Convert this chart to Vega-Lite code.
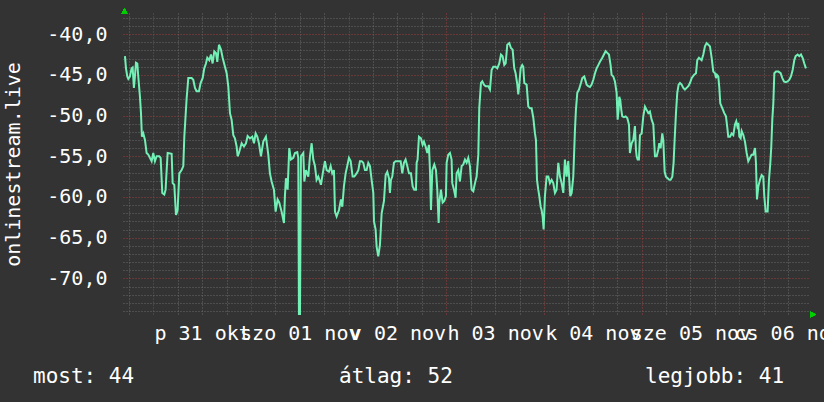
{
  "$schema": "https://vega.github.io/schema/vega-lite/v6.json",
  "width": 686,
  "height": 302,
  "autosize": {"type": "none"},
  "padding": {"left": 123, "top": 13, "right": 15, "bottom": 87},
  "background": "#333333",
  "config": {
    "view": {"fill": "#222222", "stroke": null},
    "font": "DejaVu Sans Mono",
    "locale": {
      "number": {"decimal": ",", "thousands": " ", "grouping": [3], "currency": ["", " Ft"], "minus": "-"},
      "time": {
        "dateTime": "%Y. %B %-e., %A %X",
        "date": "%Y. %m. %d.",
        "time": "%H:%M:%S",
        "periods": ["de.", "du."],
        "days": ["vasárnap", "hétfő", "kedd", "szerda", "csütörtök", "péntek", "szombat"],
        "shortDays": ["v", "h", "k", "sze", "cs", "p", "szo"],
        "months": ["január", "február", "március", "április", "május", "június", "július", "augusztus", "szeptember", "október", "november", "december"],
        "shortMonths": ["jan", "febr", "márc", "ápr", "máj", "jún", "júl", "aug", "szept", "okt", "nov", "dec"]
      }
    },
    "axis": {"domain": false, "ticks": false, "tickSize": 0, "labelFont": "DejaVu Sans Mono", "titleFont": "DejaVu Sans Mono"}
  },
  "data": {
    "format": {"parse": {"t": "utc:'%Y-%m-%d %H:%M'"}},
    "values": [
      {"t": "2014-10-30 17:03", "v": -42.7}, {"t": "2014-10-30 17:18", "v": -44.2}, {"t": "2014-10-30 17:37", "v": -45.2}, {"t": "2014-10-30 17:52", "v": -45.5},
      {"t": "2014-10-30 18:16", "v": -45.2}, {"t": "2014-10-30 18:41", "v": -44.2}, {"t": "2014-10-30 18:56", "v": -44.1}, {"t": "2014-10-30 19:15", "v": -46.6},
      {"t": "2014-10-30 19:30", "v": -45.2}, {"t": "2014-10-30 19:45", "v": -43.5}, {"t": "2014-10-30 20:05", "v": -43.6}, {"t": "2014-10-30 20:19", "v": -45.2},
      {"t": "2014-10-30 20:44", "v": -47.7}, {"t": "2014-10-30 20:59", "v": -49.7}, {"t": "2014-10-30 21:13", "v": -52.6}, {"t": "2014-10-30 21:33", "v": -52.2},
      {"t": "2014-10-30 21:58", "v": -53.0}, {"t": "2014-10-30 22:22", "v": -54.6}, {"t": "2014-10-30 22:47", "v": -54.8}, {"t": "2014-10-30 23:11", "v": -55.2},
      {"t": "2014-10-30 23:36", "v": -55.6},
      {"t": "2014-10-31 00:00", "v": -54.6}, {"t": "2014-10-31 00:25", "v": -55.6}, {"t": "2014-10-31 00:50", "v": -55.0}, {"t": "2014-10-31 01:29", "v": -55.0},
      {"t": "2014-10-31 01:49", "v": -55.2}, {"t": "2014-10-31 02:13", "v": -59.5}, {"t": "2014-10-31 02:43", "v": -59.7}, {"t": "2014-10-31 03:02", "v": -59.1},
      {"t": "2014-10-31 03:32", "v": -54.6}, {"t": "2014-10-31 04:31", "v": -54.7}, {"t": "2014-10-31 04:46", "v": -58.3}, {"t": "2014-10-31 05:10", "v": -58.5},
      {"t": "2014-10-31 05:35", "v": -62.2}, {"t": "2014-10-31 05:59", "v": -61.6}, {"t": "2014-10-31 06:24", "v": -57.1}, {"t": "2014-10-31 06:58", "v": -56.7},
      {"t": "2014-10-31 07:23", "v": -56.2}, {"t": "2014-10-31 07:38", "v": -52.6}, {"t": "2014-10-31 08:12", "v": -47.9}, {"t": "2014-10-31 08:37", "v": -45.4},
      {"t": "2014-10-31 09:26", "v": -45.4}, {"t": "2014-10-31 09:50", "v": -45.6}, {"t": "2014-10-31 10:15", "v": -46.6}, {"t": "2014-10-31 10:39", "v": -47.0},
      {"t": "2014-10-31 11:14", "v": -47.0}, {"t": "2014-10-31 11:38", "v": -46.0}, {"t": "2014-10-31 12:08", "v": -45.4}, {"t": "2014-10-31 12:32", "v": -44.2},
      {"t": "2014-10-31 12:57", "v": -43.6}, {"t": "2014-10-31 13:17", "v": -42.9}, {"t": "2014-10-31 13:46", "v": -43.2}, {"t": "2014-10-31 14:11", "v": -42.5},
      {"t": "2014-10-31 14:35", "v": -43.6}, {"t": "2014-10-31 15:00", "v": -42.1}, {"t": "2014-10-31 15:24", "v": -42.3}, {"t": "2014-10-31 15:44", "v": -43.4},
      {"t": "2014-10-31 16:09", "v": -41.3}, {"t": "2014-10-31 16:38", "v": -41.9}, {"t": "2014-10-31 17:03", "v": -42.9}, {"t": "2014-10-31 17:37", "v": -44.0},
      {"t": "2014-10-31 18:02", "v": -44.8}, {"t": "2014-10-31 18:26", "v": -46.4}, {"t": "2014-10-31 18:51", "v": -49.7}, {"t": "2014-10-31 19:15", "v": -50.5},
      {"t": "2014-10-31 19:40", "v": -52.4}, {"t": "2014-10-31 20:04", "v": -52.8}, {"t": "2014-10-31 20:29", "v": -53.8}, {"t": "2014-10-31 20:44", "v": -55.0},
      {"t": "2014-10-31 21:03", "v": -54.6}, {"t": "2014-10-31 21:43", "v": -53.4}, {"t": "2014-10-31 22:17", "v": -53.8}, {"t": "2014-10-31 22:47", "v": -53.4},
      {"t": "2014-10-31 23:11", "v": -52.5}, {"t": "2014-10-31 23:46", "v": -52.8},
      {"t": "2014-11-01 00:20", "v": -52.6}, {"t": "2014-11-01 00:45", "v": -53.4}, {"t": "2014-11-01 01:09", "v": -52.2}, {"t": "2014-11-01 01:34", "v": -52.6},
      {"t": "2014-11-01 01:58", "v": -53.4}, {"t": "2014-11-01 02:28", "v": -55.0}, {"t": "2014-11-01 03:02", "v": -53.2}, {"t": "2014-11-01 03:41", "v": -52.6},
      {"t": "2014-11-01 04:16", "v": -54.8}, {"t": "2014-11-01 04:40", "v": -57.1}, {"t": "2014-11-01 05:05", "v": -58.1}, {"t": "2014-11-01 05:39", "v": -59.1},
      {"t": "2014-11-01 06:04", "v": -61.8}, {"t": "2014-11-01 06:33", "v": -60.3}, {"t": "2014-11-01 06:58", "v": -60.7}, {"t": "2014-11-01 07:32", "v": -61.8},
      {"t": "2014-11-01 08:07", "v": -63.2}, {"t": "2014-11-01 08:21", "v": -59.9}, {"t": "2014-11-01 08:36", "v": -57.7}, {"t": "2014-11-01 09:01", "v": -59.1},
      {"t": "2014-11-01 09:25", "v": -54.0}, {"t": "2014-11-01 09:50", "v": -55.4}, {"t": "2014-11-01 10:24", "v": -55.2}, {"t": "2014-11-01 10:49", "v": -54.6},
      {"t": "2014-11-01 11:23", "v": -54.5}, {"t": "2014-11-01 11:38", "v": -55.2}, {"t": "2014-11-01 11:48", "v": -74.5}, {"t": "2014-11-01 12:03", "v": -74.5},
      {"t": "2014-11-01 12:17", "v": -55.0}, {"t": "2014-11-01 12:52", "v": -54.6}, {"t": "2014-11-01 13:07", "v": -58.1}, {"t": "2014-11-01 13:31", "v": -56.7},
      {"t": "2014-11-01 14:06", "v": -57.5}, {"t": "2014-11-01 14:30", "v": -55.0}, {"t": "2014-11-01 14:55", "v": -53.4}, {"t": "2014-11-01 15:19", "v": -55.4},
      {"t": "2014-11-01 15:44", "v": -56.2}, {"t": "2014-11-01 16:08", "v": -57.9}, {"t": "2014-11-01 16:33", "v": -57.5}, {"t": "2014-11-01 16:58", "v": -58.1},
      {"t": "2014-11-01 17:12", "v": -58.5}, {"t": "2014-11-01 17:47", "v": -56.7}, {"t": "2014-11-01 18:11", "v": -55.6}, {"t": "2014-11-01 18:36", "v": -56.7},
      {"t": "2014-11-01 19:10", "v": -56.9}, {"t": "2014-11-01 19:35", "v": -56.2}, {"t": "2014-11-01 19:59", "v": -57.1}, {"t": "2014-11-01 20:24", "v": -56.7},
      {"t": "2014-11-01 20:39", "v": -61.8}, {"t": "2014-11-01 21:03", "v": -62.4}, {"t": "2014-11-01 21:38", "v": -61.6}, {"t": "2014-11-01 22:07", "v": -60.3},
      {"t": "2014-11-01 22:27", "v": -61.2}, {"t": "2014-11-01 22:51", "v": -58.7}, {"t": "2014-11-01 23:16", "v": -57.1}, {"t": "2014-11-01 23:40", "v": -56.2},
      {"t": "2014-11-02 00:05", "v": -55.2}, {"t": "2014-11-02 00:30", "v": -55.6}, {"t": "2014-11-02 00:59", "v": -57.5}, {"t": "2014-11-02 01:24", "v": -57.5},
      {"t": "2014-11-02 01:58", "v": -57.1}, {"t": "2014-11-02 02:23", "v": -56.7}, {"t": "2014-11-02 02:47", "v": -55.6}, {"t": "2014-11-02 03:12", "v": -55.6},
      {"t": "2014-11-02 03:36", "v": -55.8}, {"t": "2014-11-02 04:01", "v": -56.7}, {"t": "2014-11-02 04:25", "v": -56.7}, {"t": "2014-11-02 04:50", "v": -55.8},
      {"t": "2014-11-02 05:15", "v": -56.2}, {"t": "2014-11-02 05:39", "v": -57.9}, {"t": "2014-11-02 06:04", "v": -59.5}, {"t": "2014-11-02 06:14", "v": -63.0},
      {"t": "2014-11-02 06:38", "v": -64.0}, {"t": "2014-11-02 06:53", "v": -66.1}, {"t": "2014-11-02 07:17", "v": -67.3}, {"t": "2014-11-02 07:42", "v": -65.9},
      {"t": "2014-11-02 08:07", "v": -62.0}, {"t": "2014-11-02 08:41", "v": -60.5}, {"t": "2014-11-02 09:06", "v": -57.3}, {"t": "2014-11-02 09:30", "v": -56.9},
      {"t": "2014-11-02 09:55", "v": -57.7}, {"t": "2014-11-02 10:09", "v": -59.5}, {"t": "2014-11-02 10:24", "v": -57.9}, {"t": "2014-11-02 10:44", "v": -57.5},
      {"t": "2014-11-02 11:08", "v": -55.8}, {"t": "2014-11-02 11:33", "v": -55.6}, {"t": "2014-11-02 12:12", "v": -55.6}, {"t": "2014-11-02 12:47", "v": -55.6},
      {"t": "2014-11-02 13:11", "v": -57.1}, {"t": "2014-11-02 13:36", "v": -55.8}, {"t": "2014-11-02 14:00", "v": -55.4}, {"t": "2014-11-02 14:25", "v": -56.2},
      {"t": "2014-11-02 14:50", "v": -57.1}, {"t": "2014-11-02 15:19", "v": -57.1}, {"t": "2014-11-02 15:44", "v": -58.7}, {"t": "2014-11-02 16:08", "v": -59.1},
      {"t": "2014-11-02 16:33", "v": -59.1}, {"t": "2014-11-02 16:43", "v": -55.8}, {"t": "2014-11-02 16:57", "v": -55.4}, {"t": "2014-11-02 17:17", "v": -52.6},
      {"t": "2014-11-02 17:46", "v": -52.8}, {"t": "2014-11-02 18:11", "v": -53.6}, {"t": "2014-11-02 18:31", "v": -53.2}, {"t": "2014-11-02 18:55", "v": -53.8},
      {"t": "2014-11-02 19:20", "v": -54.6}, {"t": "2014-11-02 19:44", "v": -53.6}, {"t": "2014-11-02 19:59", "v": -56.7}, {"t": "2014-11-02 20:14", "v": -61.6},
      {"t": "2014-11-02 20:34", "v": -56.7}, {"t": "2014-11-02 21:03", "v": -56.0}, {"t": "2014-11-02 21:28", "v": -56.7}, {"t": "2014-11-02 21:47", "v": -59.1},
      {"t": "2014-11-02 22:07", "v": -63.2}, {"t": "2014-11-02 22:17", "v": -60.7}, {"t": "2014-11-02 22:41", "v": -59.1}, {"t": "2014-11-02 23:06", "v": -60.7},
      {"t": "2014-11-02 23:30", "v": -60.5}, {"t": "2014-11-02 23:55", "v": -59.9},
      {"t": "2014-11-03 00:05", "v": -55.8}, {"t": "2014-11-03 00:29", "v": -54.8}, {"t": "2014-11-03 00:54", "v": -54.6}, {"t": "2014-11-03 01:18", "v": -55.4},
      {"t": "2014-11-03 01:28", "v": -58.3}, {"t": "2014-11-03 01:53", "v": -59.1}, {"t": "2014-11-03 02:17", "v": -60.1}, {"t": "2014-11-03 02:32", "v": -57.1},
      {"t": "2014-11-03 02:57", "v": -56.7}, {"t": "2014-11-03 03:21", "v": -58.1}, {"t": "2014-11-03 03:46", "v": -56.2}, {"t": "2014-11-03 04:11", "v": -56.0},
      {"t": "2014-11-03 04:35", "v": -55.4}, {"t": "2014-11-03 05:00", "v": -55.8}, {"t": "2014-11-03 05:24", "v": -55.2}, {"t": "2014-11-03 05:49", "v": -56.2},
      {"t": "2014-11-03 06:13", "v": -59.1}, {"t": "2014-11-03 06:38", "v": -59.3}, {"t": "2014-11-03 07:03", "v": -58.3}, {"t": "2014-11-03 07:27", "v": -57.5},
      {"t": "2014-11-03 07:52", "v": -54.8}, {"t": "2014-11-03 08:06", "v": -49.1}, {"t": "2014-11-03 08:31", "v": -46.0}, {"t": "2014-11-03 08:51", "v": -45.8},
      {"t": "2014-11-03 09:15", "v": -46.2}, {"t": "2014-11-03 09:40", "v": -46.4}, {"t": "2014-11-03 10:19", "v": -46.4}, {"t": "2014-11-03 10:44", "v": -46.8},
      {"t": "2014-11-03 11:08", "v": -44.4}, {"t": "2014-11-03 11:33", "v": -44.0}, {"t": "2014-11-03 12:07", "v": -44.0}, {"t": "2014-11-03 12:32", "v": -44.2},
      {"t": "2014-11-03 13:01", "v": -43.6}, {"t": "2014-11-03 13:26", "v": -42.5}, {"t": "2014-11-03 13:50", "v": -42.7}, {"t": "2014-11-03 14:15", "v": -43.8},
      {"t": "2014-11-03 14:35", "v": -43.6}, {"t": "2014-11-03 14:59", "v": -41.3}, {"t": "2014-11-03 15:29", "v": -41.1}, {"t": "2014-11-03 15:53", "v": -41.7},
      {"t": "2014-11-03 16:18", "v": -41.9}, {"t": "2014-11-03 16:42", "v": -44.2}, {"t": "2014-11-03 17:02", "v": -44.8}, {"t": "2014-11-03 17:27", "v": -46.2},
      {"t": "2014-11-03 17:41", "v": -47.4}, {"t": "2014-11-03 17:56", "v": -46.2}, {"t": "2014-11-03 18:16", "v": -44.2}, {"t": "2014-11-03 18:40", "v": -43.8},
      {"t": "2014-11-03 18:55", "v": -44.0}, {"t": "2014-11-03 19:10", "v": -46.0}, {"t": "2014-11-03 19:44", "v": -46.2}, {"t": "2014-11-03 20:09", "v": -48.9},
      {"t": "2014-11-03 20:33", "v": -49.1}, {"t": "2014-11-03 20:58", "v": -49.1}, {"t": "2014-11-03 21:23", "v": -50.3}, {"t": "2014-11-03 21:47", "v": -52.2},
      {"t": "2014-11-03 22:02", "v": -53.0}, {"t": "2014-11-03 22:17", "v": -57.9}, {"t": "2014-11-03 22:36", "v": -59.1}, {"t": "2014-11-03 22:51", "v": -59.9},
      {"t": "2014-11-03 23:11", "v": -61.2}, {"t": "2014-11-03 23:25", "v": -61.6}, {"t": "2014-11-03 23:40", "v": -62.4}, {"t": "2014-11-03 23:55", "v": -64.0},
      {"t": "2014-11-04 00:14", "v": -59.9}, {"t": "2014-11-04 00:39", "v": -57.5}, {"t": "2014-11-04 01:04", "v": -57.5}, {"t": "2014-11-04 01:28", "v": -58.3},
      {"t": "2014-11-04 01:53", "v": -57.9}, {"t": "2014-11-04 02:17", "v": -58.3}, {"t": "2014-11-04 02:42", "v": -59.5}, {"t": "2014-11-04 03:06", "v": -59.1},
      {"t": "2014-11-04 03:31", "v": -55.8}, {"t": "2014-11-04 03:56", "v": -57.5}, {"t": "2014-11-04 04:20", "v": -58.3}, {"t": "2014-11-04 04:45", "v": -59.5},
      {"t": "2014-11-04 05:09", "v": -55.4}, {"t": "2014-11-04 05:34", "v": -57.5}, {"t": "2014-11-04 05:58", "v": -55.6}, {"t": "2014-11-04 06:13", "v": -57.9},
      {"t": "2014-11-04 06:28", "v": -59.9}, {"t": "2014-11-04 06:48", "v": -59.5}, {"t": "2014-11-04 07:12", "v": -57.5}, {"t": "2014-11-04 07:37", "v": -51.7},
      {"t": "2014-11-04 07:51", "v": -49.3}, {"t": "2014-11-04 08:11", "v": -47.2}, {"t": "2014-11-04 08:36", "v": -46.8}, {"t": "2014-11-04 09:05", "v": -46.0},
      {"t": "2014-11-04 09:25", "v": -45.4}, {"t": "2014-11-04 09:54", "v": -45.2}, {"t": "2014-11-04 10:29", "v": -46.2}, {"t": "2014-11-04 10:53", "v": -46.4},
      {"t": "2014-11-04 11:18", "v": -46.5}, {"t": "2014-11-04 11:42", "v": -46.2}, {"t": "2014-11-04 12:07", "v": -45.6}, {"t": "2014-11-04 12:32", "v": -44.8},
      {"t": "2014-11-04 12:56", "v": -44.2}, {"t": "2014-11-04 13:21", "v": -43.8}, {"t": "2014-11-04 13:45", "v": -43.4}, {"t": "2014-11-04 14:20", "v": -42.9},
      {"t": "2014-11-04 14:44", "v": -42.5}, {"t": "2014-11-04 15:09", "v": -42.1}, {"t": "2014-11-04 15:33", "v": -42.3}, {"t": "2014-11-04 15:58", "v": -42.5},
      {"t": "2014-11-04 16:22", "v": -43.8}, {"t": "2014-11-04 16:37", "v": -45.0}, {"t": "2014-11-04 17:02", "v": -45.2}, {"t": "2014-11-04 17:26", "v": -45.8},
      {"t": "2014-11-04 17:51", "v": -47.2}, {"t": "2014-11-04 18:06", "v": -50.5}, {"t": "2014-11-04 18:20", "v": -49.3}, {"t": "2014-11-04 18:30", "v": -47.7},
      {"t": "2014-11-04 18:45", "v": -48.1}, {"t": "2014-11-04 19:00", "v": -49.3}, {"t": "2014-11-04 19:14", "v": -50.1}, {"t": "2014-11-04 19:39", "v": -50.2},
      {"t": "2014-11-04 20:04", "v": -50.1}, {"t": "2014-11-04 20:28", "v": -50.3}, {"t": "2014-11-04 20:53", "v": -51.1}, {"t": "2014-11-04 21:07", "v": -54.6},
      {"t": "2014-11-04 21:32", "v": -53.4}, {"t": "2014-11-04 21:57", "v": -53.0}, {"t": "2014-11-04 22:21", "v": -51.3}, {"t": "2014-11-04 22:36", "v": -54.2},
      {"t": "2014-11-04 22:46", "v": -55.0}, {"t": "2014-11-04 23:01", "v": -55.4}, {"t": "2014-11-04 23:20", "v": -55.4}, {"t": "2014-11-04 23:35", "v": -52.4},
      {"t": "2014-11-05 00:00", "v": -52.2}, {"t": "2014-11-05 00:24", "v": -50.1}, {"t": "2014-11-05 00:49", "v": -48.9}, {"t": "2014-11-05 01:13", "v": -49.3},
      {"t": "2014-11-05 01:38", "v": -49.7}, {"t": "2014-11-05 02:02", "v": -49.5}, {"t": "2014-11-05 02:27", "v": -50.5}, {"t": "2014-11-05 02:52", "v": -51.1},
      {"t": "2014-11-05 03:16", "v": -55.0}, {"t": "2014-11-05 03:41", "v": -55.0}, {"t": "2014-11-05 04:05", "v": -54.2}, {"t": "2014-11-05 04:20", "v": -53.4},
      {"t": "2014-11-05 04:40", "v": -54.0}, {"t": "2014-11-05 05:04", "v": -52.2}, {"t": "2014-11-05 05:19", "v": -53.0}, {"t": "2014-11-05 05:39", "v": -56.9},
      {"t": "2014-11-05 05:58", "v": -57.5}, {"t": "2014-11-05 06:23", "v": -57.7}, {"t": "2014-11-05 06:47", "v": -57.9}, {"t": "2014-11-05 07:07", "v": -57.9},
      {"t": "2014-11-05 07:32", "v": -57.5}, {"t": "2014-11-05 07:51", "v": -55.8}, {"t": "2014-11-05 08:06", "v": -53.0}, {"t": "2014-11-05 08:26", "v": -49.7},
      {"t": "2014-11-05 08:45", "v": -47.2}, {"t": "2014-11-05 09:05", "v": -46.2}, {"t": "2014-11-05 09:25", "v": -46.0}, {"t": "2014-11-05 09:49", "v": -46.2},
      {"t": "2014-11-05 10:14", "v": -46.6}, {"t": "2014-11-05 10:38", "v": -46.8}, {"t": "2014-11-05 11:03", "v": -46.6}, {"t": "2014-11-05 11:28", "v": -46.4},
      {"t": "2014-11-05 11:52", "v": -46.0}, {"t": "2014-11-05 12:17", "v": -45.4}, {"t": "2014-11-05 12:51", "v": -45.0}, {"t": "2014-11-05 13:21", "v": -44.8},
      {"t": "2014-11-05 13:40", "v": -43.2}, {"t": "2014-11-05 14:05", "v": -42.9}, {"t": "2014-11-05 14:44", "v": -43.2}, {"t": "2014-11-05 15:09", "v": -42.5},
      {"t": "2014-11-05 15:33", "v": -41.5}, {"t": "2014-11-05 15:58", "v": -41.1}, {"t": "2014-11-05 16:23", "v": -41.3}, {"t": "2014-11-05 16:47", "v": -41.5},
      {"t": "2014-11-05 17:12", "v": -42.9}, {"t": "2014-11-05 17:36", "v": -44.6}, {"t": "2014-11-05 18:01", "v": -44.8}, {"t": "2014-11-05 18:16", "v": -45.4},
      {"t": "2014-11-05 18:30", "v": -45.0}, {"t": "2014-11-05 18:50", "v": -45.2}, {"t": "2014-11-05 19:05", "v": -46.6}, {"t": "2014-11-05 19:19", "v": -48.5},
      {"t": "2014-11-05 19:39", "v": -48.9}, {"t": "2014-11-05 19:59", "v": -49.3}, {"t": "2014-11-05 20:18", "v": -49.7}, {"t": "2014-11-05 20:43", "v": -50.1},
      {"t": "2014-11-05 21:03", "v": -51.5}, {"t": "2014-11-05 21:17", "v": -52.6}, {"t": "2014-11-05 21:42", "v": -52.6}, {"t": "2014-11-05 22:07", "v": -52.2},
      {"t": "2014-11-05 22:31", "v": -52.4}, {"t": "2014-11-05 22:56", "v": -51.1}, {"t": "2014-11-05 23:15", "v": -50.7}, {"t": "2014-11-05 23:30", "v": -51.3},
      {"t": "2014-11-05 23:45", "v": -50.9},
      {"t": "2014-11-06 00:00", "v": -52.6}, {"t": "2014-11-06 00:19", "v": -52.8}, {"t": "2014-11-06 00:34", "v": -51.9}, {"t": "2014-11-06 00:59", "v": -52.4},
      {"t": "2014-11-06 01:23", "v": -53.2}, {"t": "2014-11-06 01:48", "v": -54.6}, {"t": "2014-11-06 02:12", "v": -55.6}, {"t": "2014-11-06 02:37", "v": -55.2},
      {"t": "2014-11-06 03:01", "v": -54.8}, {"t": "2014-11-06 03:26", "v": -54.8}, {"t": "2014-11-06 03:51", "v": -54.0}, {"t": "2014-11-06 04:05", "v": -55.8},
      {"t": "2014-11-06 04:20", "v": -60.3}, {"t": "2014-11-06 04:40", "v": -58.7}, {"t": "2014-11-06 05:04", "v": -57.9}, {"t": "2014-11-06 05:29", "v": -57.3},
      {"t": "2014-11-06 05:53", "v": -57.5}, {"t": "2014-11-06 06:08", "v": -59.9}, {"t": "2014-11-06 06:28", "v": -61.8}, {"t": "2014-11-06 06:57", "v": -61.8},
      {"t": "2014-11-06 07:17", "v": -57.9}, {"t": "2014-11-06 07:37", "v": -55.8}, {"t": "2014-11-06 07:51", "v": -53.8}, {"t": "2014-11-06 08:06", "v": -50.5},
      {"t": "2014-11-06 08:21", "v": -48.5}, {"t": "2014-11-06 08:36", "v": -44.8}, {"t": "2014-11-06 09:00", "v": -44.6}, {"t": "2014-11-06 09:35", "v": -44.6},
      {"t": "2014-11-06 10:09", "v": -44.8}, {"t": "2014-11-06 10:34", "v": -45.4}, {"t": "2014-11-06 10:58", "v": -45.8}, {"t": "2014-11-06 11:23", "v": -45.9},
      {"t": "2014-11-06 11:52", "v": -45.8}, {"t": "2014-11-06 12:17", "v": -45.6}, {"t": "2014-11-06 12:41", "v": -45.2}, {"t": "2014-11-06 13:06", "v": -44.4},
      {"t": "2014-11-06 13:30", "v": -43.2}, {"t": "2014-11-06 13:50", "v": -42.7}, {"t": "2014-11-06 14:20", "v": -42.5}, {"t": "2014-11-06 14:44", "v": -42.7},
      {"t": "2014-11-06 15:09", "v": -42.5}, {"t": "2014-11-06 15:33", "v": -42.9}, {"t": "2014-11-06 15:58", "v": -43.6}, {"t": "2014-11-06 16:22", "v": -44.2}
    ]
  },
  "layer": [
    {
      "mark": {"type": "line", "opacity": 0},
      "encoding": {
        "x": {"field": "t", "type": "temporal",
          "scale": {"type": "utc", "domain": [1414686840000, 1415293620000], "nice": false},
          "axis": {"orient": "bottom", "title": null, "labels": false, "domain": false, "ticks": false, "grid": true, "gridColor": "#6a6a6a", "gridDash": [1, 2], "gridWidth": 1,
            "values": [1414692000000, 1414735200000, 1414756800000, 1414778400000, 1414821600000, 1414843200000, 1414864800000, 1414908000000, 1414929600000, 1414951200000, 1414994400000, 1415016000000, 1415037600000, 1415080800000, 1415102400000, 1415124000000, 1415167200000, 1415188800000, 1415210400000, 1415253600000, 1415275200000]}},
        "y": {"field": "v", "type": "quantitative",
          "scale": {"domain": [-74.5, -37.4], "nice": false, "zero": false},
          "axis": {"orient": "left", "title": null, "labels": false, "domain": false, "ticks": false, "grid": true, "gridColor": "#6a6a6a", "gridDash": [1, 2], "gridWidth": 1,
            "values": [-74, -73, -72, -71, -69, -68, -67, -66, -64, -63, -62, -61, -59, -58, -57, -56, -54, -53, -52, -51, -49, -48, -47, -46, -44, -43, -42, -41, -39, -38]}}
      }
    },
    {
      "mark": {"type": "line", "opacity": 0},
      "encoding": {
        "x": {"field": "t", "type": "temporal",
          "scale": {"type": "utc", "domain": [1414686840000, 1415293620000], "nice": false},
          "axis": {"orient": "bottom", "title": null, "labels": false, "domain": false, "ticks": false, "grid": true, "gridColor": "#9a4040", "gridDash": [1, 2], "gridWidth": 1,
            "values": [1414713600000, 1414800000000, 1414886400000, 1414972800000, 1415059200000, 1415145600000, 1415232000000]}},
        "y": {"field": "v", "type": "quantitative", "scale": {"domain": [-74.5, -37.4], "nice": false, "zero": false}, "axis": null}
      }
    },
    {
      "mark": {"type": "line", "color": "#72f0b6", "strokeWidth": 2, "clip": true},
      "encoding": {
        "x": {"field": "t", "type": "temporal",
          "scale": {"type": "utc", "domain": [1414686840000, 1415293620000], "nice": false},
          "axis": {"orient": "bottom", "title": null, "grid": false, "domain": false, "ticks": false, "tickSize": 0,
            "values": [1414756800000, 1414843200000, 1414929600000, 1415016000000, 1415102400000, 1415188800000, 1415275200000],
            "labelExpr": "utcFormat(datum.value, '%a %d %b')",
            "labelFont": "DejaVu Sans Mono", "labelFontSize": 20, "labelColor": "#ffffff", "labelBaseline": "alphabetic", "labelPadding": 24, "labelDx": -3,
            "labelOverlap": false, "labelBound": false, "labelFlush": false, "labelLimit": 0}},
        "y": {"field": "v", "type": "quantitative",
          "scale": {"domain": [-74.5, -37.4], "nice": false, "zero": false},
          "axis": {"orient": "left", "title": "onlinestream.live", "domain": false, "ticks": false, "tickSize": 0, "grid": true, "gridColor": "#9a4040", "gridDash": [1, 2], "gridWidth": 1,
            "values": [-70, -65, -60, -55, -50, -45, -40], "format": ".1f",
            "labelFont": "DejaVu Sans Mono", "labelFontSize": 20, "labelColor": "#ffffff", "labelPadding": 16,
            "titleFont": "DejaVu Sans Mono", "titleFontSize": 20, "titleFontWeight": "normal", "titleColor": "#ffffff", "titlePadding": 23}}
      }
    },
    {
      "data": {"values": [{"s": "most: 44"}, {"s": "átlag: 52"}, {"s": "legjobb: 41"}]},
      "mark": {"type": "point", "opacity": 0},
      "encoding": {
        "color": {"field": "s", "type": "nominal",
          "scale": {"domain": ["most: 44", "átlag: 52", "legjobb: 41"], "range": ["#ffffff", "#ffffff", "#ffffff"]},
          "legend": {"orient": "none", "legendX": -111, "legendY": 353, "direction": "horizontal", "columns": 3, "gridAlign": "all", "columnPadding": 145,
            "title": null, "symbolSize": 0, "symbolOpacity": 0, "symbolStrokeWidth": 0, "labelOffset": 0,
            "labelFont": "DejaVu Sans Mono", "labelFontSize": 21, "labelColor": "#ffffff", "labelLimit": 0}}
      }
    },
    {
      "mark": {"type": "point", "shape": "triangle-up", "filled": true, "color": "#00d000", "opacity": 1, "size": 28, "yOffset": -2, "xOffset": 1.5, "clip": false},
      "encoding": {
        "x": {"datum": 1414686840000, "type": "temporal", "scale": {"type": "utc", "domain": [1414686840000, 1415293620000], "nice": false}, "axis": null},
        "y": {"datum": -37.4, "type": "quantitative", "scale": {"domain": [-74.5, -37.4], "nice": false, "zero": false}, "axis": null}
      }
    },
    {
      "mark": {"type": "point", "shape": "triangle-right", "filled": true, "color": "#00d000", "opacity": 1, "size": 28, "xOffset": 4, "yOffset": -0.5, "clip": false},
      "encoding": {
        "x": {"datum": 1415293620000, "type": "temporal", "scale": {"type": "utc", "domain": [1414686840000, 1415293620000], "nice": false}, "axis": null},
        "y": {"datum": -74.5, "type": "quantitative", "scale": {"domain": [-74.5, -37.4], "nice": false, "zero": false}, "axis": null}
      }
    }
  ],
  "resolve": {"axis": {"x": "independent", "y": "independent"}}
}
